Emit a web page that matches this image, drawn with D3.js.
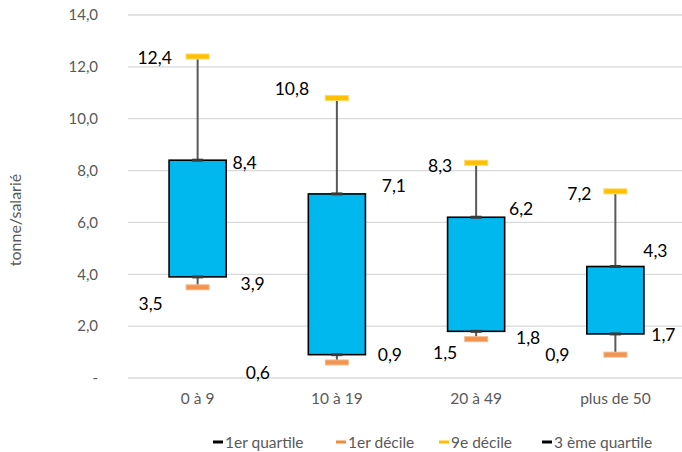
<!DOCTYPE html>
<html>
<head>
<meta charset="utf-8">
<script src="https://cdn.jsdelivr.net/npm/d3@7"></script>
<style>
  html, body { margin: 0; padding: 0; background: #fff; }
  svg { display: block; font-family: Lato, "Liberation Sans", sans-serif; }
</style>
</head>
<body>
<svg id="chart" width="682" height="452"></svg>
<script>
// ---- data ----
const categories = ["0 à 9", "10 à 19", "20 à 49", "plus de 50"];
const decile1   = [3.5, 0.6, 1.5, 0.9];
const quartile1 = [3.9, 0.9, 1.8, 1.7];
const quartile3 = [8.4, 7.1, 6.2, 4.3];
const decile9   = [12.4, 10.8, 8.3, 7.2];
const yTicks = [0, 2, 4, 6, 8, 10, 12, 14];
const yTitle = "tonne/salarié";
const legendLabels = ["1er quartile", "1er décile", "9e décile", "3 ème quartile"];

// ---- label layout (pixel offsets from each point) ----
const offD9 = [[-43, 1], [-45, -9], [-36, 3], [-36, 2]];
const offQ3 = [[47, 2], [57, -8], [45, -9], [40, -16]];
const offQ1 = [[55, 7], [53, 0], [52, 6], [48, 1]];
const offD1 = [[-47, 16], [-79, 10], [-31, 13], [-58, 0]];

const svg = d3.select("#chart");
const W = 682, H = 452;
const plot = { left: 128, right: 685, top: 15, bottom: 378 };
const FONT = "Lato, 'Liberation Sans', sans-serif";

const x = d3.scaleBand().domain(categories).range([plot.left, plot.right]);
const y = d3.scaleLinear().domain([0, 14]).range([plot.bottom, plot.top]);

const loc = d3.formatLocale({ decimal: ",", thousands: " ", grouping: [3], currency: ["", "€"] });
const fmt = loc.format(".1f");
const tickFmt = v => v === 0 ? "-" : fmt(v);

// gridlines
svg.append("g").selectAll("line").data(yTicks).join("line")
  .attr("x1", plot.left).attr("x2", W)
  .attr("y1", d => y(d)).attr("y2", d => y(d))
  .attr("stroke", "#D9D9D9").attr("stroke-width", 1.3);

// y axis ticks (via d3 axis, no domain line)
const yAxis = svg.append("g").attr("transform", `translate(${plot.left},0)`)
  .call(d3.axisLeft(y).tickValues(yTicks).tickFormat(tickFmt).tickSize(0).tickPadding(30));
yAxis.select(".domain").remove();
yAxis.selectAll("text").attr("fill", "#595959").style("font-size", "15px")
  .style("font-family", FONT);

// y title
svg.append("text")
  .attr("transform", `translate(21,220) rotate(-90)`)
  .attr("text-anchor", "middle")
  .attr("fill", "#595959").style("font-size", "16px")
  .text(yTitle);

// x axis labels
const xAxis = svg.append("g").attr("transform", `translate(0,${plot.bottom})`)
  .call(d3.axisBottom(x).tickSize(0).tickPadding(15));
xAxis.select(".domain").remove();
xAxis.selectAll("text").attr("fill", "#595959").style("font-size", "15.5px")
  .style("font-family", FONT);

const cx = c => x(c) + x.bandwidth() / 2;
const boxW = x.bandwidth() * 0.41;
const idx = categories.map((c, i) => i);

// whiskers (high-low lines)
svg.append("g").selectAll("line").data(idx).join("line")
  .attr("x1", i => cx(categories[i])).attr("x2", i => cx(categories[i]))
  .attr("y1", i => y(decile9[i])).attr("y2", i => y(decile1[i]))
  .attr("stroke", "#595959").attr("stroke-width", 2);

// boxes
svg.append("g").selectAll("rect").data(idx).join("rect")
  .attr("x", i => cx(categories[i]) - boxW / 2)
  .attr("width", boxW)
  .attr("y", i => y(quartile3[i]))
  .attr("height", i => y(quartile1[i]) - y(quartile3[i]))
  .attr("fill", "#00B8EE").attr("stroke", "#000").attr("stroke-width", 1.6);

// markers
function markers(vals, color, w, h) {
  svg.append("g").selectAll("rect").data(idx).join("rect")
    .attr("x", i => cx(categories[i]) - w / 2)
    .attr("y", i => y(vals[i]) - h / 2)
    .attr("width", w).attr("height", h)
    .attr("fill", color);
}
markers(decile9, "#FFD860", 24, 6);
markers(decile9, "#FFC000", 22, 4);
markers(decile1, "#F7B888", 24, 6);
markers(decile1, "#F29450", 22, 4);
markers(quartile1, "#3A3A3A", 11, 3);
markers(quartile3, "#3A3A3A", 11, 3);

// data labels
function labels(vals, off) {
  svg.append("g").selectAll("text").data(idx).join("text")
    .attr("x", i => cx(categories[i]) + off[i][0])
    .attr("y", i => y(vals[i]) + off[i][1])
    .attr("text-anchor", "middle").attr("dominant-baseline", "central")
    .attr("fill", "#000").style("font-size", "17.5px")
    .text(i => fmt(vals[i]));
}
labels(decile9, offD9);
labels(quartile3, offQ3);
labels(quartile1, offQ1);
labels(decile1, offD1);

// legend
const legendColors = ["#000", "#F08A3C", "#FFC000", "#000"];
const legendX = [213, 336, 439, 542];
const ly = 442;
const lg = svg.append("g");
legendLabels.forEach((t, i) => {
  lg.append("rect").attr("x", legendX[i]).attr("y", ly - 1.5)
    .attr("width", 10).attr("height", 3).attr("fill", legendColors[i]);
  lg.append("text").attr("x", legendX[i] + 12).attr("y", ly)
    .attr("dominant-baseline", "central")
    .attr("fill", "#595959").style("font-size", "15.5px").text(t);
});
</script>
</body>
</html>
